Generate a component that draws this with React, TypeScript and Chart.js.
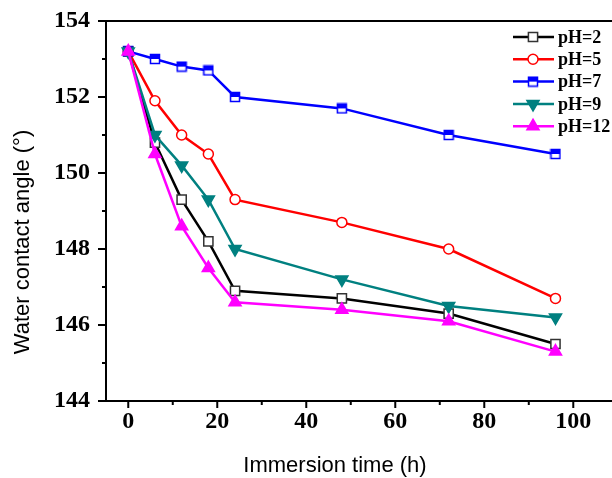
import React, { useEffect, useRef } from 'react';
import { Chart, registerables } from 'chart.js';
import { drawPoint } from 'chart.js/helpers';
Chart.register(...registerables);

const times = [0, 6, 12, 18, 24, 48, 72, 96];
const ph2 = [153.2, 150.8, 149.3, 148.2, 146.9, 146.7, 146.3, 145.5];
const ph5 = [153.2, 151.9, 151.0, 150.5, 149.3, 148.7, 148.0, 146.7];
const ph7 = [153.2, 153.0, 152.8, 152.7, 152.0, 151.7, 151.0, 150.5];
const ph9 = [153.2, 151.0, 150.2, 149.3, 148.0, 147.2, 146.5, 146.2];
const ph12 = [153.2, 150.5, 148.6, 147.5, 146.6, 146.4, 146.1, 145.3];
const seriesLabels = ['pH=2', 'pH=5', 'pH=7', 'pH=9', 'pH=12'];
const xTickValues = [0, 10, 20, 30, 40, 50, 60, 70, 80, 90, 100];
const yTickValues = [144, 145, 146, 147, 148, 149, 150, 151, 152, 153, 154];
const xTitle = 'Immersion time (h)';
const yTitle = 'Water contact angle (°)';

function halfSquare(color: string): HTMLCanvasElement {
  const c = document.createElement('canvas');
  c.width = 12;
  c.height = 12;
  const g = c.getContext('2d')!;
  g.fillStyle = '#ffffff';
  g.fillRect(1, 1, 10, 10);
  g.fillStyle = color;
  g.fillRect(1, 1, 10, 5);
  g.strokeStyle = color;
  g.lineWidth = 1.5;
  g.strokeRect(1.5, 1.5, 9, 9);
  return c;
}

export default function App() {
  const ref = useRef<HTMLCanvasElement>(null);
  useEffect(() => {
    const blueMarker = halfSquare('#0000ff');
    const mk = (i: number, data: number[], color: string, style: any, extra: any) => ({
      label: seriesLabels[i],
      data: times.map((t, k) => ({ x: t, y: data[k] })),
      borderColor: color,
      borderWidth: 2.5,
      pointStyle: style,
      pointBorderWidth: 1.5,
      order: 5 - i,
      ...extra,
    });
    const datasets: any[] = [
      mk(0, ph2, '#000000', 'rect', { pointRadius: 6.5, pointBackgroundColor: '#ffffff', pointBorderColor: '#333333' }),
      mk(1, ph5, '#ff0000', 'circle', { pointRadius: 5, pointBackgroundColor: '#ffffff', pointBorderColor: '#ff0000' }),
      mk(2, ph7, '#0000ff', blueMarker, { pointRadius: 6, pointBackgroundColor: '#0000ff', pointBorderColor: '#0000ff' }),
      mk(3, ph9, '#008080', 'triangle', { pointRadius: 7, pointRotation: 180, pointBackgroundColor: '#008080', pointBorderColor: '#008080' }),
      mk(4, ph12, '#ff00ff', 'triangle', { pointRadius: 7, pointBackgroundColor: '#ff00ff', pointBorderColor: '#ff00ff' }),
    ];

    const decor = {
      id: 'decor',
      afterDraw(chart: any) {
        const ctx = chart.ctx;
        const ca = chart.chartArea;
        const xs = chart.scales.x;
        const ys = chart.scales.y;
        ctx.save();
        ctx.strokeStyle = '#000';
        ctx.lineWidth = 2;
        // top border
        ctx.beginPath();
        ctx.moveTo(ca.left - 1, ca.top);
        ctx.lineTo(ca.right, ca.top);
        ctx.stroke();
        // x ticks
        xs.ticks.forEach((t: any) => {
          const px = xs.getPixelForValue(t.value);
          const len = t.value % 20 === 0 ? 7 : 4;
          ctx.beginPath();
          ctx.moveTo(px, ca.bottom);
          ctx.lineTo(px, ca.bottom + len);
          ctx.stroke();
        });
        ys.ticks.forEach((t: any) => {
          const py = ys.getPixelForValue(t.value);
          const len = t.value % 2 === 0 ? 8 : 4;
          ctx.beginPath();
          ctx.moveTo(ca.left, py);
          ctx.lineTo(ca.left - len, py);
          ctx.stroke();
        });
        // axis titles
        ctx.fillStyle = '#000';
        ctx.font = '22px "Liberation Sans", Arial, sans-serif';
        ctx.textAlign = 'center';
        ctx.textBaseline = 'middle';
        ctx.fillText(xTitle, 335, 466);
        ctx.save();
        ctx.translate(23, 242);
        ctx.rotate(-Math.PI / 2);
        ctx.fillText(yTitle, 0, 0);
        ctx.restore();
        // legend
        const ds = chart.data.datasets;
        ds.forEach((d: any, i: number) => {
          const y = 37 + i * 22.3;
          ctx.strokeStyle = d.borderColor;
          ctx.lineWidth = 2.5;
          ctx.beginPath();
          ctx.moveTo(513, y);
          ctx.lineTo(554, y);
          ctx.stroke();
          ctx.fillStyle = d.pointBackgroundColor;
          ctx.strokeStyle = d.pointBorderColor;
          ctx.lineWidth = d.pointBorderWidth;
          drawPoint(ctx, { pointStyle: d.pointStyle, rotation: d.pointRotation || 0, radius: d.pointRadius, borderWidth: d.pointBorderWidth }, 533, y);
          ctx.fillStyle = '#000';
          ctx.font = 'bold 18px "Liberation Serif", "Times New Roman", serif';
          ctx.textAlign = 'left';
          ctx.textBaseline = 'middle';
          ctx.fillText(d.label, 558, y + 1);
        });
        ctx.restore();
      },
    };

    const chart = new Chart(ref.current!, {
      type: 'line',
      data: { datasets },
      options: {
        animation: false,
        responsive: false,
        layout: { autoPadding: false, padding: { top: 21, left: 0, right: 0, bottom: 0 } },
        plugins: { legend: { display: false }, tooltip: { enabled: false } },
        scales: {
          x: {
            type: 'linear',
            min: -5,
            max: 108.7,
            afterBuildTicks: (s: any) => { s.ticks = xTickValues.map((v) => ({ value: v })); },
            afterFit: (s: any) => { s.height = 77; s.paddingLeft = 0; s.paddingRight = 0; },
            grid: { display: false, drawTicks: false },
            border: { display: true, color: '#000', width: 2 },
            ticks: {
              padding: 6,
              color: '#000',
              font: { family: '"Liberation Serif", "Times New Roman", serif', size: 24, weight: 'bold' },
              callback: (v: any) => (Number(v) % 20 === 0 ? String(v) : ''),
              maxRotation: 0,
              autoSkip: false,
            },
          },
          y: {
            type: 'linear',
            min: 144,
            max: 154,
            afterBuildTicks: (s: any) => { s.ticks = yTickValues.map((v) => ({ value: v })); },
            afterFit: (s: any) => { s.width = 106; s.paddingTop = 0; s.paddingBottom = 0; },
            grid: { display: false, drawTicks: false },
            border: { display: true, color: '#000', width: 2 },
            ticks: {
              padding: 16,
              color: '#000',
              font: { family: '"Liberation Serif", "Times New Roman", serif', size: 24, weight: 'bold' },
              callback: (v: any) => (Number(v) % 2 === 0 ? String(v) : ''),
              autoSkip: false,
            },
          },
        },
      },
      plugins: [decor],
    } as any);
    return () => chart.destroy();
  }, []);
  return (
    <div style={{ position: 'absolute', left: 0, top: 0, width: 612, height: 478, background: '#fff' }}>
      <canvas ref={ref} width={612} height={478} style={{ width: 612, height: 478, display: 'block' }} />
    </div>
  );
}
